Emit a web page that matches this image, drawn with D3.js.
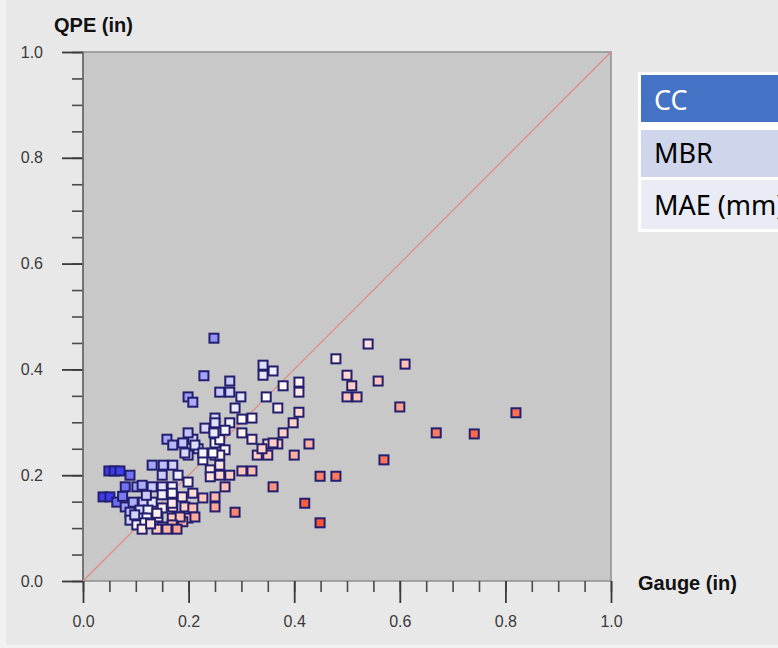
<!DOCTYPE html>
<html>
<head>
<meta charset="utf-8">
<script src="https://cdn.jsdelivr.net/npm/d3@7"></script>
<style>
  body { margin: 0; background: #f2f2f2; overflow: hidden; }
  svg { display: block; }
</style>
</head>
<body>
<svg id="chart"></svg>
<script>
// gauge vs radar QPE, inches
const gauge = [
  0.248, 0.229, 0.199, 0.208, 0.278, 0.259, 0.278, 0.299, 0.288, 0.341,
  0.341, 0.360, 0.347, 0.379, 0.409, 0.409, 0.409, 0.369, 0.398, 0.379,
  0.369, 0.350, 0.350, 0.330, 0.339, 0.320, 0.301, 0.320, 0.301, 0.428,
  0.400, 0.320, 0.301, 0.360, 0.420, 0.449, 0.449, 0.479, 0.479, 0.500,
  0.509, 0.500, 0.519, 0.540, 0.559, 0.610, 0.600, 0.570, 0.669, 0.741,
  0.820, 0.250, 0.250, 0.278, 0.231, 0.269, 0.208, 0.189, 0.159, 0.250,
  0.218, 0.259, 0.269, 0.199, 0.250, 0.227, 0.259, 0.152, 0.170, 0.170,
  0.193, 0.212, 0.227, 0.246, 0.360, 0.180, 0.199, 0.241, 0.259, 0.259,
  0.241, 0.278, 0.269, 0.208, 0.227, 0.250, 0.250, 0.288, 0.170, 0.193,
  0.208, 0.178, 0.199, 0.212, 0.174, 0.189, 0.049, 0.059, 0.070, 0.089,
  0.131, 0.150, 0.080, 0.102, 0.112, 0.131, 0.150, 0.169, 0.038, 0.051,
  0.064, 0.080, 0.095, 0.114, 0.131, 0.150, 0.169, 0.188, 0.089, 0.108,
  0.123, 0.150, 0.169, 0.089, 0.112, 0.121, 0.142, 0.169, 0.184, 0.102,
  0.117, 0.150, 0.169, 0.112, 0.140, 0.159, 0.178, 0.199, 0.248, 0.075,
  0.098, 0.120, 0.140, 0.128
];
const qpe = [
  0.459, 0.388, 0.348, 0.338, 0.378, 0.357, 0.357, 0.348, 0.327, 0.408,
  0.389, 0.397, 0.348, 0.369, 0.376, 0.357, 0.319, 0.327, 0.299, 0.280,
  0.259, 0.259, 0.238, 0.238, 0.250, 0.268, 0.306, 0.308, 0.280, 0.259,
  0.238, 0.208, 0.208, 0.178, 0.147, 0.110, 0.198, 0.198, 0.420, 0.389,
  0.369, 0.348, 0.348, 0.448, 0.378, 0.410, 0.329, 0.229, 0.280, 0.278,
  0.318, 0.308, 0.299, 0.299, 0.289, 0.285, 0.268, 0.261, 0.268, 0.261,
  0.250, 0.267, 0.248, 0.238, 0.238, 0.229, 0.238, 0.219, 0.219, 0.257,
  0.242, 0.257, 0.242, 0.242, 0.261, 0.200, 0.187, 0.210, 0.219, 0.200,
  0.197, 0.200, 0.178, 0.166, 0.157, 0.159, 0.140, 0.130, 0.140, 0.140,
  0.138, 0.121, 0.119, 0.121, 0.100, 0.112, 0.208, 0.208, 0.208, 0.200,
  0.219, 0.200, 0.178, 0.178, 0.181, 0.178, 0.178, 0.178, 0.159, 0.159,
  0.149, 0.140, 0.149, 0.149, 0.149, 0.163, 0.166, 0.159, 0.130, 0.134,
  0.134, 0.138, 0.147, 0.115, 0.119, 0.119, 0.121, 0.119, 0.121, 0.106,
  0.110, 0.102, 0.106, 0.098, 0.098, 0.098, 0.098, 0.280, 0.280, 0.160,
  0.125, 0.162, 0.128, 0.108
];

const majorTicks = [0, 0.2, 0.4, 0.6, 0.8, 1.0];
const minorTicks = d3.range(0, 1.0001, 0.05);
const statNames = ["CC", "MBR", "MAE (mm)"];
const statColors = ["#4472c4", "#cfd5ea", "#e9ebf5"];
const statText = ["#ffffff", "#000000", "#000000"];

const W = 778, H = 648;
const svg = d3.select("#chart").attr("width", W).attr("height", H);

// panel background
svg.append("rect").attr("x", 6).attr("y", 0).attr("width", W - 6).attr("height", 645)
  .attr("fill", "#e8e8e8");

const plot = {left: 83, top: 52, right: 611, bottom: 581};

const x = d3.scaleLinear().domain([0, 1]).range([plot.left, plot.right]);
const y = d3.scaleLinear().domain([0, 1]).range([plot.bottom, plot.top]);

// colour by log ratio QPE / gauge: red = under, white = 1:1, blue = over
const color = d3.scaleDiverging()
  .domain([-1.6, 0, 1.6])
  .interpolator(d3.piecewise(d3.interpolateRgb, ["#ff5533", "#ffffff", "#3c3cee"]))
  .clamp(true);

svg.append("rect")
  .attr("x", plot.left).attr("y", plot.top)
  .attr("width", plot.right - plot.left).attr("height", plot.bottom - plot.top)
  .attr("fill", "#c8c8c8").attr("stroke", "#8e8e8e").attr("stroke-width", 1.5);

// minor ticks
svg.append("g")
  .attr("transform", `translate(0,${plot.bottom})`)
  .call(d3.axisBottom(x).tickValues(minorTicks).tickSize(11).tickFormat(""))
  .call(g => g.select(".domain").remove())
  .call(g => g.selectAll("line").attr("stroke", "#4a4a4a").attr("stroke-width", 1.6));

svg.append("g")
  .attr("transform", `translate(${plot.left},0)`)
  .call(d3.axisLeft(y).tickValues(minorTicks).tickSize(11).tickFormat(""))
  .call(g => g.select(".domain").remove())
  .call(g => g.selectAll("line").attr("stroke", "#4a4a4a").attr("stroke-width", 1.6));

// major ticks + labels
const xAxis = svg.append("g")
  .attr("transform", `translate(0,${plot.bottom})`)
  .call(d3.axisBottom(x).tickValues(majorTicks).tickSize(22).tickPadding(13).tickFormat(d3.format(".1f")));
const yAxis = svg.append("g")
  .attr("transform", `translate(${plot.left},0)`)
  .call(d3.axisLeft(y).tickValues(majorTicks).tickSize(21).tickPadding(19).tickFormat(d3.format(".1f")));

[xAxis, yAxis].forEach(a => {
  a.select(".domain").remove();
  a.selectAll("line").attr("stroke", "#3a3a3a").attr("stroke-width", 1.8);
  a.selectAll("text")
    .attr("fill", "#3a3a3a")
    .attr("font-family", "'Liberation Sans', Arial, sans-serif")
    .attr("font-size", 16);
});

// left axis line
svg.append("line")
  .attr("x1", plot.left).attr("x2", plot.left)
  .attr("y1", plot.top).attr("y2", plot.bottom)
  .attr("stroke", "#666").attr("stroke-width", 1.5);

// 1:1 line
svg.append("line")
  .attr("x1", x(0)).attr("y1", y(0)).attr("x2", x(1)).attr("y2", y(1))
  .attr("stroke", "#e08a86").attr("stroke-width", 1.2);

const pts = gauge.map((g, i) => ({g: g, q: qpe[i]}));
const s = 9;

svg.append("g").selectAll("rect")
  .data(pts)
  .join("rect")
    .attr("x", d => x(d.g) - s / 2)
    .attr("y", d => y(d.q) - s / 2)
    .attr("width", s).attr("height", s)
    .attr("fill", d => color(Math.log2(d.q / d.g)))
    .attr("stroke", "#231f6e")
    .attr("stroke-width", 2);

// axis titles
svg.append("text")
  .attr("x", 54).attr("y", 32)
  .style("font-family", "'Liberation Sans', Arial, sans-serif")
  .style("font-size", "20px").style("font-weight", "bold")
  .attr("fill", "#111")
  .text("QPE (in)");

svg.append("text")
  .attr("x", 638).attr("y", 590)
  .style("font-family", "'Liberation Sans', Arial, sans-serif")
  .style("font-size", "20px").style("font-weight", "bold")
  .attr("fill", "#111")
  .text("Gauge (in)");

// stats table (cut off at the right edge, as in the source image)
const rowY = [75, 130, 180];
const rowH = [47, 47, 49];
const baseY = [110, 163, 215];

svg.append("rect").attr("x", 638).attr("y", 72).attr("width", 160).attr("height", 160)
  .attr("fill", "#ffffff");

statNames.forEach((name, i) => {
  svg.append("rect")
    .attr("x", 641).attr("y", rowY[i])
    .attr("width", 160).attr("height", rowH[i])
    .attr("fill", statColors[i]);
  svg.append("text")
    .attr("x", 654).attr("y", baseY[i])
    .style("font-family", "'Noto Sans', 'Open Sans', sans-serif")
    .style("font-size", "27px")
    .attr("fill", statText[i])
    .text(name);
});
</script>
</body>
</html>
